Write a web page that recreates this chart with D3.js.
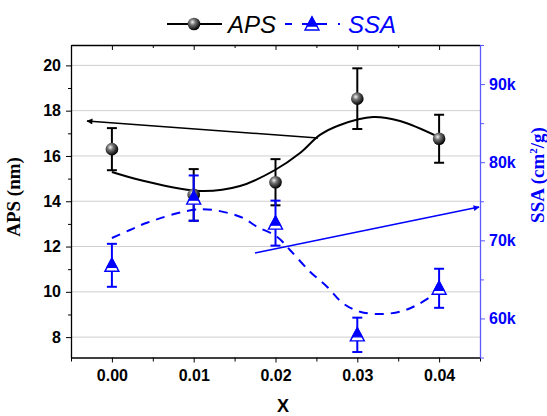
<!DOCTYPE html>
<html><head><meta charset="utf-8">
<script src="https://cdn.jsdelivr.net/npm/d3@7"></script>
<style>body{margin:0;background:#fff} svg{display:block}</style>
</head><body><svg id="c" width="547" height="416"></svg>
<script>
// ---- data ----
const xValues   = [0, 0.01, 0.02, 0.03, 0.04];
const apsValues = [16.3, 14.28, 14.84, 18.53, 16.76];
const apsErrors = [0.93, 1.14, 1.02, 1.34, 1.06];
const ssaValues = [66800, 75400, 72200, 57900, 63860];
const ssaErrors = [2750, 2900, 2880, 2200, 2500];
// smooth fitted curves
const apsCurveX = [0, 0.00344, 0.01077, 0.01566, 0.01994, 0.0230, 0.02544, 0.02789, 0.03192, 0.03522, 0.0399];
const apsCurveY = [15.29, 14.94, 14.45, 14.67, 15.38, 16.13, 16.93, 17.37, 17.72, 17.54, 16.84];
const ssaCurveX = [0, 0.00221, 0.00429, 0.01077, 0.01566, 0.01774, 0.02018, 0.02177, 0.02422, 0.0263, 0.02825, 0.03033, 0.03278, 0.03522, 0.0373, 0.04];
const ssaCurveY = [70300, 71320, 72250, 73970, 73020, 71740, 70460, 68760, 65980, 64060, 61940, 60860, 60570, 60860, 61720, 63500];
const xTicks = [0, 0.01, 0.02, 0.03, 0.04];
const xMinor = [-0.005, 0.005, 0.015, 0.025, 0.035, 0.045];
const apsTicks = [8, 10, 12, 14, 16, 18, 20];
const apsMinor = [9, 11, 13, 15, 17, 19];
const ssaTicks = [60000, 70000, 80000, 90000];
const ssaMinor = [55000, 65000, 75000, 85000, 95000];
// annotation arrows [x0,y0,x1,y1] (tail -> head)
const apsArrow = [0.0252, 16.79, -0.00304, 17.54];
const ssaArrow = [0.01749, 68380, 0.04488, 74260];

const svg = d3.select("#c");
const L=71, R=480, T=45, B=357.5;
const x = d3.scaleLinear().domain([-0.005,0.045]).range([L,R]);
const yL = d3.scaleLinear().domain([7.1,20.9]).range([B,T]);
const yR = d3.scaleLinear().domain([55000,95000]).range([B,T]);
const BLUE="#0000ff", AXBLUE="#5a5aff";
const sans="'Liberation Sans', Arial, sans-serif", serif="'Liberation Serif','Times New Roman',serif";

const defs = svg.append("defs");
const g = defs.append("radialGradient").attr("id","ball").attr("cx","38%").attr("cy","35%").attr("r","65%");
g.append("stop").attr("offset","0%").attr("stop-color","#f4f4f4");
g.append("stop").attr("offset","35%").attr("stop-color","#777");
g.append("stop").attr("offset","100%").attr("stop-color","#000");
function mk(id,color){
  defs.append("marker").attr("id",id).attr("viewBox","0 0 10 10").attr("refX",9).attr("refY",5)
    .attr("markerWidth",7).attr("markerHeight",6).attr("markerUnits","userSpaceOnUse").attr("orient","auto")
    .append("path").attr("d","M0,0L10,5L0,10Z").attr("fill",color);
}
mk("ak","#000"); mk("ab",BLUE);

// gridlines
svg.append("g").selectAll("line").data(apsTicks).join("line")
  .attr("x1",L).attr("x2",R).attr("y1",d=>yL(d)).attr("y2",d=>yL(d))
  .attr("stroke","#cfcfcf").attr("stroke-width",1);

// axes
function styleAxis(sel,color,labelColor){
  sel.selectAll("line").attr("stroke",color).attr("stroke-width",1);
  sel.selectAll("path").attr("stroke",color).attr("stroke-width",1.3);
  sel.selectAll("text").attr("fill",labelColor).style("font-family",sans).style("font-weight","bold").style("font-size","16px");
}
const axL = svg.append("g").attr("transform",`translate(${L},0)`).call(d3.axisLeft(yL).tickValues(apsTicks).tickSize(5).tickSizeOuter(0).tickPadding(5));
styleAxis(axL,"#000","#000");
const axLm = svg.append("g").attr("transform",`translate(${L},0)`).call(d3.axisLeft(yL).tickValues(apsMinor).tickSize(3).tickFormat(""));
axLm.select(".domain").remove(); styleAxis(axLm,"#000","#000");

const axB = svg.append("g").attr("transform",`translate(0,${B})`).call(d3.axisBottom(x).tickValues(xTicks).tickFormat(d3.format(".2f")).tickSize(5).tickSizeOuter(0).tickPadding(7));
styleAxis(axB,"#000","#000");
const axBm = svg.append("g").attr("transform",`translate(0,${B})`).call(d3.axisBottom(x).tickValues(xMinor).tickSize(4).tickFormat(""));
axBm.select(".domain").remove(); styleAxis(axBm,"#000","#000");

const axT = svg.append("g").attr("transform",`translate(0,${T})`).call(d3.axisTop(x).tickValues(xTicks).tickSize(-5).tickSizeOuter(0).tickFormat(""));
styleAxis(axT,"#000","#000");
const axTm = svg.append("g").attr("transform",`translate(0,${T})`).call(d3.axisTop(x).tickValues(xMinor).tickSize(-3).tickFormat(""));
axTm.select(".domain").remove(); styleAxis(axTm,"#000","#000");

const axR = svg.append("g").attr("transform",`translate(${R},0)`).call(d3.axisRight(yR).tickValues(ssaTicks).tickFormat(d=>d/1000+"k").tickSize(5).tickSizeOuter(0).tickPadding(4));
styleAxis(axR,AXBLUE,BLUE);
const axRm = svg.append("g").attr("transform",`translate(${R},0)`).call(d3.axisRight(yR).tickValues(ssaMinor).tickSize(4).tickFormat(""));
axRm.select(".domain").remove(); styleAxis(axRm,AXBLUE,BLUE);

// axis titles
svg.append("text").attr("transform","translate(19.5,197) rotate(-90)").attr("text-anchor","middle")
  .style("font-family",serif).style("font-weight","bold").style("font-size","19px").attr("fill","#000").text("APS (nm)");
const rt = svg.append("text").attr("transform","translate(543.5,175) rotate(-90)").attr("text-anchor","middle")
  .style("font-family",serif).style("font-weight","bold").style("font-size","19px").attr("fill",BLUE);
rt.append("tspan").text("SSA (cm");
rt.append("tspan").attr("dy",-7).style("font-size","11px").text("2");
rt.append("tspan").attr("dy",7).text("/g)");
svg.append("text").attr("x",283).attr("y",411.5).attr("text-anchor","middle")
  .style("font-family",sans).style("font-weight","bold").style("font-size","18px").text("X");

// curves
const lnA = d3.line().x(d=>x(d[0])).y(d=>yL(d[1])).curve(d3.curveCatmullRom);
const lnS = d3.line().x(d=>x(d[0])).y(d=>yR(d[1])).curve(d3.curveCatmullRom);
svg.append("path").attr("d",lnA(d3.zip(apsCurveX,apsCurveY))).attr("fill","none").attr("stroke","#000").attr("stroke-width",2);
svg.append("path").attr("d",lnS(d3.zip(ssaCurveX,ssaCurveY))).attr("fill","none").attr("stroke",BLUE).attr("stroke-width",2).attr("stroke-dasharray","9,7");

// arrows
svg.append("line").attr("x1",x(apsArrow[0])).attr("y1",yL(apsArrow[1])).attr("x2",x(apsArrow[2])).attr("y2",yL(apsArrow[3]))
  .attr("stroke","#000").attr("stroke-width",1.5).attr("marker-end","url(#ak)");
svg.append("line").attr("x1",x(ssaArrow[0])).attr("y1",yR(ssaArrow[1])).attr("x2",x(ssaArrow[2])).attr("y2",yR(ssaArrow[3]))
  .attr("stroke",BLUE).attr("stroke-width",1.5).attr("marker-end","url(#ab)");

// error bars
function errBars(vals,errs,ys,color){
  const gg = svg.append("g").attr("stroke",color).attr("stroke-width",2).attr("fill","none");
  vals.forEach((v,i)=>{
    const cx=x(xValues[i]), y1=ys(v+errs[i]), y2=ys(v-errs[i]);
    gg.append("line").attr("x1",cx).attr("x2",cx).attr("y1",y1).attr("y2",y2);
    gg.append("line").attr("x1",cx-5).attr("x2",cx+5).attr("y1",y1).attr("y2",y1);
    gg.append("line").attr("x1",cx-5).attr("x2",cx+5).attr("y1",y2).attr("y2",y2);
  });
}
function ball(cx,cy){ svg.append("circle").attr("cx",cx).attr("cy",cy).attr("r",6.3).attr("fill","url(#ball)"); }
function tri(cx,cy){
  svg.append("path").attr("d",`M${cx},${cy-7}L${cx+7},${cy+6}L${cx-7},${cy+6}Z`).attr("fill","#fff").attr("stroke",BLUE).attr("stroke-width",1.4);
  const f=9/13;
  svg.append("path").attr("d",`M${cx},${cy-7}L${cx+7*f},${cy+2}L${cx-7*f},${cy+2}Z`).attr("fill",BLUE).attr("stroke",BLUE).attr("stroke-width",1.4);
}
errBars(apsValues,apsErrors,yL,"#000");
apsValues.forEach((v,i)=>ball(x(xValues[i]),yL(v)));
errBars(ssaValues,ssaErrors,yR,BLUE);
ssaValues.forEach((v,i)=>tri(x(xValues[i]),yR(v)));

// legend
svg.append("line").attr("x1",167).attr("x2",222).attr("y1",24).attr("y2",24).attr("stroke","#000").attr("stroke-width",2);
ball(194,24);
svg.append("text").attr("x",228).attr("y",33).style("font-family",sans).style("font-style","italic").style("font-size","24px").attr("fill","#000").text("APS");
svg.append("line").attr("x1",285).attr("x2",340).attr("y1",24).attr("y2",24).attr("stroke",BLUE).attr("stroke-width",2).attr("stroke-dasharray","7,10,25,11,2");
tri(312,24);
svg.append("text").attr("x",348).attr("y",33).style("font-family",sans).style("font-style","italic").style("font-size","24px").attr("fill",BLUE).text("SSA");
</script></body></html>
